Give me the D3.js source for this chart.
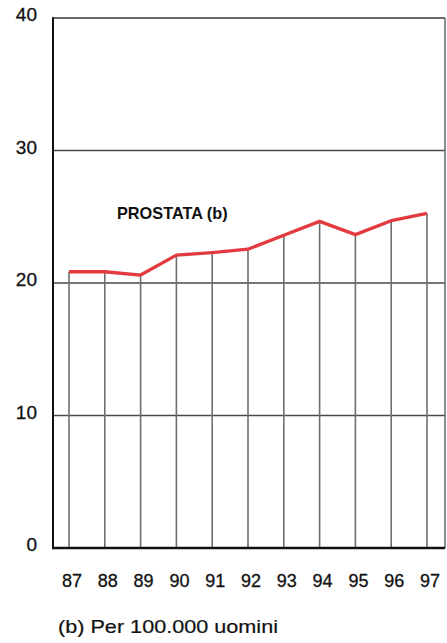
<!DOCTYPE html>
<html>
<head>
<meta charset="utf-8">
<script src="https://cdn.jsdelivr.net/npm/d3@7"></script>
<style>
  html, body { margin: 0; padding: 0; background: #fff; }
  svg { display: block; }
  text { font-family: "Liberation Sans", Arial, Helvetica, sans-serif; fill: #111; }
</style>
</head>
<body>
<svg id="chart" width="447" height="643"></svg>
<script>
const years = [87, 88, 89, 90, 91, 92, 93, 94, 95, 96, 97];
const yearLabels = ["87", "88", "89", "90", "91", "92", "93", "94", "95", "96", "97"];
const prostata = [20.85, 20.85, 20.6, 22.1, 22.3, 22.55, 23.6, 24.65, 23.65, 24.7, 25.25];
const yTicks = [0, 10, 20, 30, 40];
const seriesLabel = "PROSTATA (b)";
const footnote = "(b) Per 100.000 uomini";

const svg = d3.select("#chart");
const frame = { left: 53, right: 445, top: 18, bottom: 548 };

const x = d3.scaleLinear().domain([87, 97]).range([69, 427]);
const y = d3.scaleLinear().domain([0, 40]).range([frame.bottom, frame.top]);

// horizontal gridlines (10, 20, 30)
svg.append("g").selectAll("line")
  .data(yTicks.filter(d => d > 0 && d < 40))
  .join("line")
  .attr("x1", frame.left).attr("x2", frame.right)
  .attr("y1", d => y(d)).attr("y2", d => y(d))
  .attr("stroke", "#4a4a4a").attr("stroke-width", 1.6);

// drop lines
svg.append("g").selectAll("line")
  .data(years.map((yr, i) => ({ yr, v: prostata[i] })))
  .join("line")
  .attr("x1", d => x(d.yr)).attr("x2", d => x(d.yr))
  .attr("y1", d => y(d.v)).attr("y2", y(0))
  .attr("stroke", "#6e6e6e").attr("stroke-width", 1.6);

// frame: top, right, left, bottom
svg.append("line").attr("x1", frame.left).attr("x2", frame.right)
  .attr("y1", y(40)).attr("y2", y(40)).attr("stroke", "#333").attr("stroke-width", 1.6);
svg.append("line").attr("x1", frame.right).attr("x2", frame.right)
  .attr("y1", y(40)).attr("y2", y(0)).attr("stroke", "#666").attr("stroke-width", 1.5);
svg.append("line").attr("x1", frame.left).attr("x2", frame.left)
  .attr("y1", y(40) - 0.8).attr("y2", y(0) + 1.2).attr("stroke", "#111").attr("stroke-width", 2);
svg.append("line").attr("x1", frame.left).attr("x2", frame.right)
  .attr("y1", y(0)).attr("y2", y(0)).attr("stroke", "#111").attr("stroke-width", 2.5);

// y tick labels
svg.append("g").selectAll("text")
  .data(yTicks)
  .join("text")
  .attr("x", 37).attr("y", d => y(d) + 3)
  .attr("text-anchor", "end")
  .attr("font-size", 19)
  .attr("stroke", "#111").attr("stroke-width", 0.3)
  .text(d => d);

// x labels
svg.append("g").selectAll("text")
  .data(years)
  .join("text")
  .attr("x", d => x(d) + 3).attr("y", 587)
  .attr("text-anchor", "middle")
  .attr("font-size", 18)
  .attr("stroke", "#111").attr("stroke-width", 0.3)
  .text((d, i) => yearLabels[i]);

// line
const line = d3.line().x((d, i) => x(years[i])).y(d => y(d));
svg.append("path")
  .datum(prostata)
  .attr("d", line)
  .attr("fill", "none")
  .attr("stroke", "#e23a3f")
  .attr("stroke-width", 3.3)
  .attr("stroke-linejoin", "round");

// series label
svg.append("text")
  .attr("x", 117).attr("y", 219)
  .attr("font-size", 16.3)
  .attr("font-weight", "bold")
  .text(seriesLabel);

// footnote
svg.append("text")
  .attr("x", 58).attr("y", 633)
  .attr("font-size", 18.5)
  .attr("textLength", 220)
  .attr("lengthAdjust", "spacingAndGlyphs")
  .attr("stroke", "#111").attr("stroke-width", 0.2)
  .text(footnote);
</script>
</body>
</html>
